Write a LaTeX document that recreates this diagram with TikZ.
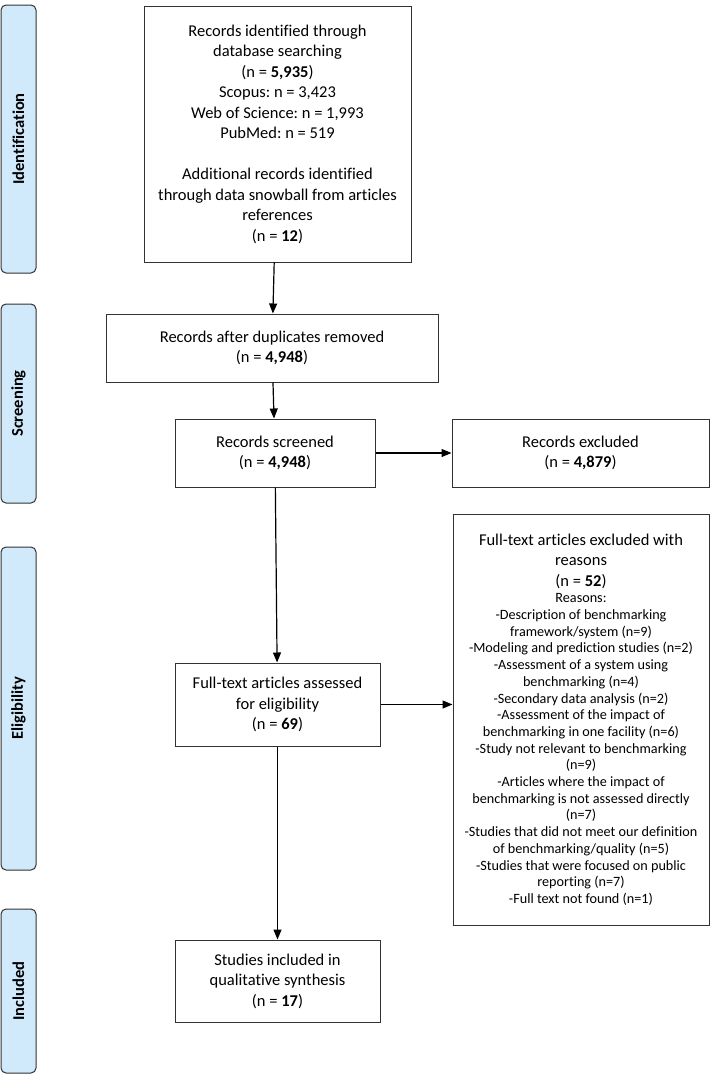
\documentclass[tikz,border=0pt]{standalone}
\usepackage{fontspec}
\setmainfont{Carlito}[Ligatures=NoCommon]
\frenchspacing
\usetikzlibrary{arrows.meta}
\definecolor{phaseblue}{RGB}{208,234,252}
\definecolor{edgegray}{RGB}{50,50,50}
\tikzset{
  box/.style={draw=edgegray, line width=1pt, align=center, inner sep=0pt, font=\fontsize{16.5}{20.5}\selectfont},
  phase/.style={draw=edgegray, fill=phaseblue, rounded corners=5pt, line width=1pt, minimum height=35pt, inner sep=0pt, rotate=90, font=\fontsize{16.5}{18}\selectfont\bfseries},
  flow/.style={line width=1.2pt, -{Triangle[length=10pt,width=8pt]}}
}
\begin{document}
\begin{tikzpicture}[x=1pt, y=-1pt]
  \useasboundingbox (0,0) rectangle (712,1074);
  % phases on the left
  \node[phase, minimum width=268pt] (phId) at (18.5,139) {Identification};
  \node[phase, minimum width=199pt] (phScr) at (18.5,403.5) {Screening};
  \node[phase, minimum width=323pt] (phElig) at (18.5,708.5) {Eligibility};
  \node[phase, minimum width=164pt] (phIncl) at (18.5,991) {Included};
  % flow boxes
  \node[box, minimum width=267pt, minimum height=256pt] (ident) at (277.5,134) {Records identified through\\database searching\\(n = \textbf{5,935})\\Scopus: n = 3,423\\Web of Science: n = 1,993\\PubMed: n = 519\\[20.5pt]Additional records identified\\through data snowball from articles\\references\\(n = \textbf{12})};
  \node[box, minimum width=332pt, minimum height=68pt] (dup) at (272,348) {Records after duplicates removed\\(n = \textbf{4,948})};
  \node[box, minimum width=200pt, minimum height=68pt] (screen) at (275,453) {Records screened\\(n = \textbf{4,948})};
  \node[box, minimum width=257pt, minimum height=68pt] (excl) at (580.5,453) {Records excluded\\(n = \textbf{4,879})};
  \node[box, minimum width=205pt, minimum height=83pt] (full) at (277.5,704.5) {Full-text articles assessed\\for eligibility\\(n = \textbf{69})};
  \node[box, align=flush center, text width=256pt, minimum height=411pt] (reasons) at (581,719.5) {Full-text articles excluded with\\reasons\\(n = \textbf{52})\par
    {\fontsize{14.2}{16.7}\selectfont Reasons:\\-Description of benchmarking\\framework/system (n=9)\\-Modeling and prediction studies (n=2)\\-Assessment of a system using\\benchmarking (n=4)\\-Secondary data analysis (n=2)\\-Assessment of the impact of\\benchmarking in one facility (n=6)\\-Study not relevant to benchmarking\\(n=9)\\-Articles where the impact of\\benchmarking is not assessed directly\\(n=7)\\-Studies that did not meet our definition\\of benchmarking/quality (n=5)\\-Studies that were focused on public\\reporting (n=7)\\-Full text not found (n=1)\par}};
  \node[box, minimum width=205pt, minimum height=82pt] (incl) at (277.5,981) {Studies included in\\qualitative synthesis\\(n = \textbf{17})};
  % connectors
  \draw[flow] (ident) -- (dup);
  \draw[flow] (dup) -- (screen);
  \draw[flow] (screen) -- (excl);
  \draw[flow] (screen) -- (full);
  \draw[flow] (full) -- (reasons.west |- full);
  \draw[flow] (full) -- (incl);
\end{tikzpicture}
\end{document}
